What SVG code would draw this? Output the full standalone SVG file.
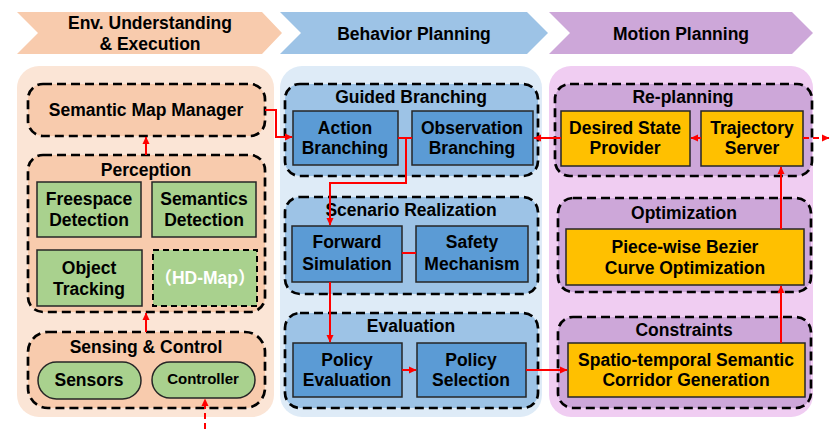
<svg xmlns="http://www.w3.org/2000/svg" width="839" height="429" viewBox="0 0 839 429">
<defs>
<marker id="ah" markerWidth="8" markerHeight="8" refX="7" refY="4" orient="auto" markerUnits="userSpaceOnUse">
<path d="M0,0.5 L7.5,4 L0,7.5 Z" fill="#FF0000"/>
</marker>
<style>
text{font-family:"Liberation Sans",Arial,sans-serif;font-weight:bold;fill:#000;text-anchor:middle;font-size:17.5px}
.grp{stroke:#000;stroke-width:2.7;stroke-dasharray:9 5}
.nd{stroke:#262626;stroke-width:1.5}
.env{fill:#F8CBAD}
.beh{fill:#9DC3E6}
.mot{fill:#CDA7D9}
.gr{fill:#A9D18E}
.bl{fill:#5B9BD5}
.yl{fill:#FFC000}
.ar{fill:none;stroke:#FF0000;stroke-width:2}
</style>
</defs>
<rect width="839" height="429" fill="#fff"/>
<!-- headers -->
<g id="hdr-env"><path d="M17,12 L262,12 L282,33 L262,54 L17,54 L38,33 Z" fill="#F8CBAD"/><text x="150" y="29">Env. Understanding</text><text x="150" y="50">&amp; Execution</text></g>
<g id="hdr-beh"><path d="M280,12 L527,12 L548,33 L527,54 L280,54 L301,33 Z" fill="#9DC3E6"/><text x="414" y="40">Behavior Planning</text></g>
<g id="hdr-mot"><path d="M549,12 L792,12 L813,33 L792,54 L549,54 L570,33 Z" fill="#CDA7D9"/><text x="681" y="40">Motion Planning</text></g>
<!-- panels -->
<rect x="17" y="66" width="257" height="351" rx="22" fill="#FBE5D6"/>
<rect x="280" y="66" width="262" height="351" rx="22" fill="#DEEBF7"/>
<rect x="549" y="66" width="264" height="351" rx="22" fill="#F0CDF2"/>
<!-- env -->
<g id="smm"><rect class="grp env" x="28" y="84" width="237" height="52" rx="15"/><text x="146" y="116">Semantic Map Manager</text></g>
<g id="perception"><rect class="grp env" x="28" y="155" width="237" height="157" rx="15"/><text x="146" y="176">Perception</text></g>
<g id="freespace"><rect class="nd gr" x="37" y="182" width="104" height="55"/><text x="89" y="205">Freespace</text><text x="89" y="226">Detection</text></g>
<g id="semantics"><rect class="nd gr" x="152" y="182" width="104" height="55"/><text x="204" y="205">Semantics</text><text x="204" y="226">Detection</text></g>
<g id="tracking"><rect class="nd gr" x="37" y="250" width="105" height="56"/><text x="89" y="274">Object</text><text x="89" y="295">Tracking</text></g>
<g id="hdmap"><rect class="grp gr" style="stroke-width:2;stroke-dasharray:6 4" x="153" y="250" width="104" height="56"/><text x="205" y="284" style="fill:#fff;font-family:'Liberation Sans','Noto Sans CJK SC',sans-serif">（HD-Map）</text></g>
<g id="sensing"><rect class="grp env" x="28" y="332" width="237" height="76" rx="20"/><text x="146" y="353">Sensing &amp; Control</text></g>
<g id="sensors"><rect class="nd gr" x="38" y="362" width="103" height="37" rx="18.5"/><text x="89" y="386">Sensors</text></g>
<g id="controller"><rect class="nd gr" x="152" y="362" width="103" height="36" rx="18"/><text x="203" y="384" style="font-size:15px">Controller</text></g>
<!-- behavior -->
<g id="guided"><rect class="grp beh" x="285" y="84" width="253" height="92" rx="15"/><text x="411" y="103">Guided Branching</text></g>
<g id="action"><rect class="nd bl" x="293" y="111" width="105" height="54"/><text x="345" y="134">Action</text><text x="345" y="154">Branching</text></g>
<g id="observation"><rect class="nd bl" x="412" y="111" width="121" height="54"/><text x="472" y="134">Observation</text><text x="472" y="154">Branching</text></g>
<g id="scenario"><rect class="grp beh" x="285" y="197" width="253" height="97" rx="15"/><text x="411" y="216">Scenario Realization</text></g>
<g id="forward"><rect class="nd bl" x="292" y="226" width="110" height="56"/><text x="347" y="248">Forward</text><text x="347" y="270">Simulation</text></g>
<g id="safety"><rect class="nd bl" x="416" y="226" width="112" height="56"/><text x="472" y="248">Safety</text><text x="472" y="270">Mechanism</text></g>
<g id="evaluation"><rect class="grp beh" x="285" y="313" width="253" height="95" rx="15"/><text x="411" y="332">Evaluation</text></g>
<g id="policyeval"><rect class="nd bl" x="293" y="343" width="109" height="54"/><text x="347" y="366">Policy</text><text x="347" y="386">Evaluation</text></g>
<g id="policysel"><rect class="nd bl" x="417" y="343" width="109" height="54"/><text x="471" y="366">Policy</text><text x="471" y="386">Selection</text></g>
<!-- motion -->
<g id="replanning"><rect class="grp mot" x="555" y="84" width="257" height="92" rx="15"/><text x="683" y="103">Re-planning</text></g>
<g id="desired"><rect class="nd yl" x="561" y="111" width="129" height="55"/><text x="625" y="134">Desired State</text><text x="625" y="154">Provider</text></g>
<g id="trajserver"><rect class="nd yl" x="701" y="111" width="102" height="55"/><text x="752" y="134">Trajectory</text><text x="752" y="154">Server</text></g>
<g id="optimization"><rect class="grp mot" x="558" y="198" width="253" height="94" rx="15"/><text x="684" y="219">Optimization</text></g>
<g id="bezier"><rect class="nd yl" x="566" y="229" width="238" height="56"/><text x="685" y="253">Piece-wise Bezier</text><text x="685" y="274">Curve Optimization</text></g>
<g id="constraints"><rect class="grp mot" x="558" y="317" width="253" height="91" rx="15"/><text x="684" y="336">Constraints</text></g>
<g id="corridor"><rect class="nd yl" x="568" y="343" width="237" height="54"/><text x="686" y="366">Spatio-temporal Semantic</text><text x="686" y="386">Corridor Generation</text></g>
<!-- connectors -->
<g id="connectors">
<path class="ar" d="M146,155 L146,137" marker-end="url(#ah)"/>
<path class="ar" d="M146,332 L146,313" marker-end="url(#ah)"/>
<path class="ar" d="M205,429 L205,399" stroke-dasharray="6 4" marker-end="url(#ah)"/>
<path class="ar" d="M265,110 L276,110 L276,137 L292,137" marker-end="url(#ah)"/>
<path class="ar" d="M398,138 L412,138"/>
<path class="ar" d="M406,138 L406,183 L330,183 L330,225" marker-end="url(#ah)"/>
<path class="ar" d="M402,253 L416,253"/>
<path class="ar" d="M330,282 L330,342" marker-end="url(#ah)"/>
<path class="ar" d="M402,370 L416,370" marker-end="url(#ah)"/>
<path class="ar" d="M526,370 L567,370" marker-end="url(#ah)"/>
<path class="ar" d="M561,138 L534,138" marker-end="url(#ah)"/>
<path class="ar" d="M701,138 L691,138" marker-end="url(#ah)"/>
<path class="ar" d="M803,138 L829,138" stroke-dasharray="6 4" marker-end="url(#ah)"/>
<path class="ar" d="M781,229 L781,167" marker-end="url(#ah)"/>
<path class="ar" d="M781,343 L781,286" marker-end="url(#ah)"/>
</g>
</svg>
